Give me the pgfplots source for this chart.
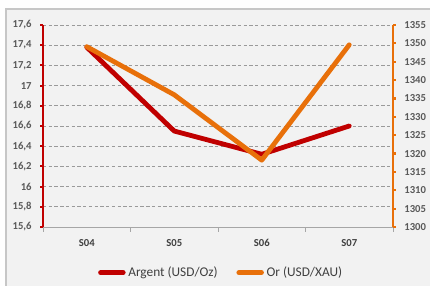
\documentclass[border=0pt]{standalone}
\usepackage{pgfplots}
\pgfplotsset{compat=1.18}
\usepackage{fontspec}
\setmainfont{Carlito}
\definecolor{argent}{HTML}{C00000}
\definecolor{orc}{HTML}{E8700A}
\definecolor{bg}{HTML}{F2F2F2}
\definecolor{txt}{HTML}{404040}
\definecolor{tick}{HTML}{595959}
\definecolor{gridc}{HTML}{9A9A9A}
\definecolor{offwhite}{HTML}{FEFEFE}
\begin{document}
\begin{tikzpicture}
\fill[offwhite] (-32.25pt,-44.25pt) rectangle (290.25pt,170.25pt);
\fill[bg] (-27.75pt,-44.25pt) rectangle (290.25pt,163.5pt);
\draw[color=gray!45, line width=0.8pt] (-27.75pt,-44.25pt) -- (-27.75pt,163.5pt) -- (290.25pt,163.5pt);
\begin{axis}[
  name=main,
  at={(0pt,0pt)}, anchor=south west,
  scale only axis, width=262.5pt, height=151.5pt,
  xmin=-0.5, xmax=3.5, ymin=15.6, ymax=17.6,
  axis y line*=left, axis x line*=bottom,
  y axis line style={draw=argent, line width=1.6pt},
  x axis line style={draw=gray!70, line width=0.6pt},
  xtick={0,1,2,3}, xticklabels={S04,S05,S06,S07},
  major x tick style={draw=none},
  minor xtick={-0.5,0.5,1.5,2.5,3.5},
  minor x tick style={draw=gray!70, line width=0.6pt},
  minor tick length=3.5pt,
  ytick={15.6,15.8,16,16.2,16.4,16.6,16.8,17,17.2,17.4,17.6},
  y tick style={draw=argent, line width=1.6pt},
  major tick length=2pt,
  tick align=outside,
  ymajorgrids,
  major y grid style={draw=gridc, line width=0.6pt, dash pattern=on 2.5pt off 1.8pt},
  /pgf/number format/use comma,
  /pgf/number format/assume math mode=true,
  yticklabel style={font=\bfseries\fontsize{8}{9}\selectfont, color=tick, xshift=-3pt},
  xticklabel style={font=\bfseries\fontsize{8}{9}\selectfont, color=txt, yshift=-4pt},
  clip=false,
  legend style={at={(0.51,-0.226)}, anchor=center, draw=none, fill=none,
    font=\fontsize{10}{12}\selectfont, text=txt, legend columns=2,
    /tikz/every even column/.append style={column sep=12pt},
    inner sep=0pt},
  legend image code/.code={\draw[#1, line width=3.6pt, line cap=round] (0pt,0pt) -- (17pt,0pt);},
]
\addplot[argent, line width=3.6pt, line cap=round, line join=round] coordinates {(0,17.38) (1,16.55) (2,16.32) (3,16.60)};
\addlegendentry{Argent (USD/Oz)}
\addlegendimage{orc}
\addlegendentry{Or (USD/XAU)}
\end{axis}
\begin{axis}[
  at={(main.south west)}, anchor=south west,
  scale only axis, width=262.5pt, height=151.5pt,
  xmin=-0.5, xmax=3.5, ymin=1300, ymax=1355,
  axis y line*=right, axis x line=none,
  y axis line style={draw=orc, line width=1.6pt},
  ytick={1300,1305,...,1355},
  y tick style={draw=orc, line width=1.6pt},
  major tick length=2pt,
  tick align=outside,
  /pgf/number format/1000 sep={},
  /pgf/number format/assume math mode=true,
  yticklabel style={font=\bfseries\fontsize{8}{9}\selectfont, color=tick, xshift=3pt},
  clip=false,
]
\addplot[orc, line width=3.6pt, line cap=round, line join=round] coordinates {(0,1349.1) (1,1336) (2,1318.2) (3,1349.6)};
\end{axis}
\pgfresetboundingbox
\path (-32.25pt,-44.25pt) rectangle (290.25pt,170.25pt);
\end{tikzpicture}
\end{document}
